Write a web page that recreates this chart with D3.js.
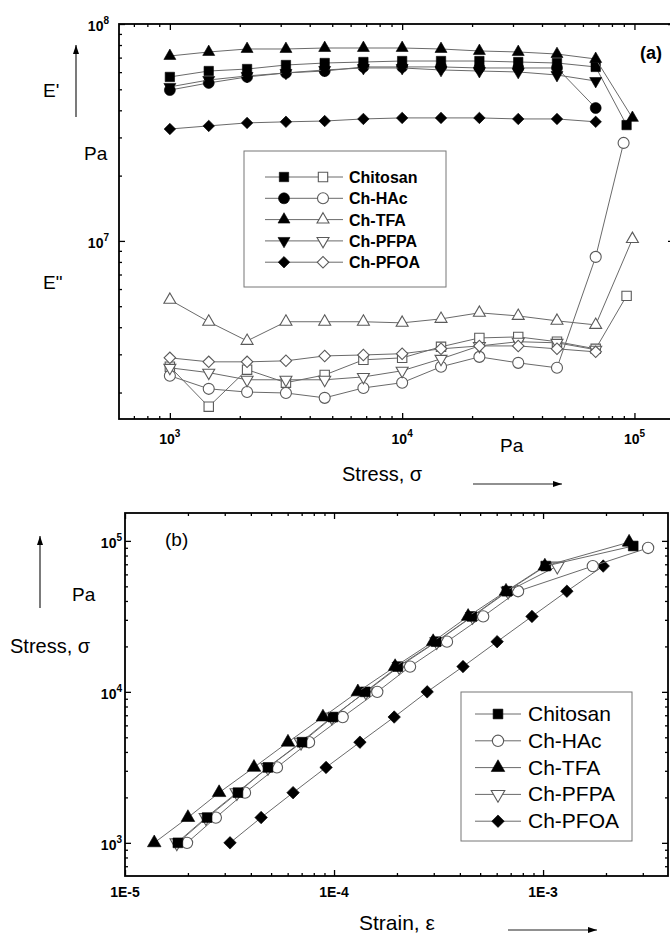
<!DOCTYPE html>
<html>
<head>
<meta charset="utf-8">
<script src="https://cdn.jsdelivr.net/npm/d3@7"></script>
<style>
  body { margin: 0; background: #fff; }
  svg { display: block; }
</style>
</head>
<body>
<svg id="chart" width="670" height="934"></svg>
<script>
// ---------------------------------------------------------------- data
var SAMPLES = ["Chitosan", "Ch-HAc", "Ch-TFA", "Ch-PFPA", "Ch-PFOA"];

// applied stress steps (Pa), shared by all samples
var STRESS = [1000, 1470, 2150, 3160, 4640, 6810, 10000, 14700, 21500, 31600, 46400, 68100];
// last stress step before failure (only some samples reached it)
var STRESS_END = [92500, 89800, 98000, null, null];

// (a) storage modulus E' (Pa)
var E1_CHITOSAN = [5.70e7, 6.07e7, 6.20e7, 6.47e7, 6.61e7, 6.68e7, 6.75e7, 6.75e7, 6.75e7, 6.68e7, 6.61e7, 6.34e7, 3.42e7];
var E1_HAC      = [4.96e7, 5.35e7, 5.70e7, 5.95e7, 6.07e7, 6.34e7, 6.34e7, 6.34e7, 6.27e7, 6.27e7, 6.27e7, 4.10e7];
var E1_TFA      = [7.12e7, 7.43e7, 7.67e7, 7.67e7, 7.75e7, 7.75e7, 7.75e7, 7.67e7, 7.51e7, 7.43e7, 7.27e7, 6.90e7, 3.69e7];
var E1_PFPA     = [5.13e7, 5.52e7, 5.76e7, 5.95e7, 6.14e7, 6.27e7, 6.27e7, 6.14e7, 6.07e7, 6.01e7, 5.82e7, 5.46e7];
var E1_PFOA     = [3.28e7, 3.39e7, 3.50e7, 3.54e7, 3.57e7, 3.65e7, 3.69e7, 3.69e7, 3.69e7, 3.65e7, 3.65e7, 3.54e7];

// (a) loss modulus E'' (Pa)
var E2_CHITOSAN = [2.63e6, 1.72e6, 2.55e6, 2.22e6, 2.41e6, 2.83e6, 2.89e6, 3.25e6, 3.57e6, 3.61e6, 3.43e6, 3.18e6, 5.58e6];
var E2_HAC      = [2.39e6, 2.08e6, 2.01e6, 1.99e6, 1.89e6, 2.10e6, 2.22e6, 2.63e6, 2.92e6, 2.74e6, 2.60e6, 8.44e6, 2.83e7];
var E2_TFA      = [5.35e6, 4.24e6, 3.46e6, 4.24e6, 4.24e6, 4.24e6, 4.19e6, 4.37e6, 4.66e6, 4.51e6, 4.28e6, 4.10e6, 1.02e7];
var E2_PFPA     = [2.60e6, 2.47e6, 2.29e6, 2.29e6, 2.29e6, 2.36e6, 2.52e6, 2.86e6, 3.28e6, 3.43e6, 3.39e6, 3.15e6];
var E2_PFOA     = [2.89e6, 2.77e6, 2.77e6, 2.80e6, 2.95e6, 2.98e6, 3.02e6, 3.18e6, 3.28e6, 3.28e6, 3.18e6, 3.08e6];

// (b) strain at each stress step
var STRAIN_CHITOSAN = [1.79e-5, 2.47e-5, 3.47e-5, 4.83e-5, 7.03e-5, 9.88e-5, 1.41e-4, 2.02e-4, 3.08e-4, 4.57e-4, 6.72e-4, 1.03e-3, 2.70e-3];
var STRAIN_HAC      = [1.98e-5, 2.72e-5, 3.75e-5, 5.33e-5, 7.59e-5, 1.10e-4, 1.61e-4, 2.31e-4, 3.47e-4, 5.17e-4, 7.59e-4, 1.73e-3, 3.18e-3];
var STRAIN_TFA      = [1.38e-5, 2.00e-5, 2.82e-5, 4.14e-5, 6.02e-5, 8.85e-5, 1.30e-4, 1.96e-4, 2.98e-4, 4.38e-4, 6.65e-4, 1.02e-3, 2.58e-3];
var STRAIN_PFPA     = [1.77e-5, 2.44e-5, 3.43e-5, 4.83e-5, 6.95e-5, 9.77e-5, 1.42e-4, 2.05e-4, 3.10e-4, 4.60e-4, 6.80e-4, 1.17e-3];
var STRAIN_PFOA     = [3.18e-5, 4.48e-5, 6.37e-5, 9.16e-5, 1.33e-4, 1.94e-4, 2.79e-4, 4.14e-4, 6.03e-4, 8.85e-4, 1.30e-3, 1.94e-3];

var E1 = [E1_CHITOSAN, E1_HAC, E1_TFA, E1_PFPA, E1_PFOA];
var E2 = [E2_CHITOSAN, E2_HAC, E2_TFA, E2_PFPA, E2_PFOA];
var STRAIN = [STRAIN_CHITOSAN, STRAIN_HAC, STRAIN_TFA, STRAIN_PFPA, STRAIN_PFOA];

// ---------------------------------------------------------------- styles
var FONT = "'Liberation Sans', Arial, Helvetica, sans-serif";
var LINE_COLOR = "#6a6a6a";
var OPEN_STROKE = "#5a5a5a";

// marker shape per sample: d3 type + rotation
var SHAPES = [
  {type: d3.symbolSquare,   rot: 0},
  {type: d3.symbolCircle,   rot: 0},
  {type: d3.symbolTriangle, rot: 0},
  {type: d3.symbolTriangle, rot: 180},
  {type: d3.symbolSquare,   rot: 45}
];
// marker areas (top panel / bottom panel)
var SIZE_A = [88, 95, 62, 62, 66];
var SIZE_B = [95, 100, 80, 80, 78];
// which samples show filled markers in (b)
var FILLED_B = [true, false, true, false, true];

var svg = d3.select("#chart");
svg.append("rect").attr("width", 670).attr("height", 934).attr("fill", "#fff");

function stressAt(s, i) {
  return i < STRESS.length ? STRESS[i] : STRESS_END[s];
}

function drawMarker(g, s, size, filled, px, py) {
  var sh = SHAPES[s];
  g.append("path")
    .attr("d", d3.symbol().type(sh.type).size(size)())
    .attr("transform", "translate(" + px + "," + py + ") rotate(" + sh.rot + ")")
    .attr("fill", filled ? "#000" : "#fff")
    .attr("stroke", filled ? "#000" : OPEN_STROKE)
    .attr("stroke-width", filled ? 0.6 : 1.1);
}

function drawSeries(g, pts, s, size, filled) {
  g.append("path")
    .datum(pts)
    .attr("d", d3.line().x(function(d){return d[0];}).y(function(d){return d[1];}))
    .attr("fill", "none")
    .attr("stroke", LINE_COLOR)
    .attr("stroke-width", 1);
  pts.forEach(function(p){ drawMarker(g, s, size, filled, p[0], p[1]); });
}

// log axis ticks: majors + minors on all four sides, pointing inward
function drawFrame(g, x, y, xMaj, xMin, yMaj, yMin) {
  var x0 = x.range()[0], x1 = x.range()[1], y0 = y.range()[0], y1 = y.range()[1];
  var w = x1 - x0, h = y0 - y1;
  function ax(gen, vals, len, tr) {
    var a = g.append("g").attr("transform", tr)
      .call(gen.tickValues(vals).tickSizeInner(len).tickSizeOuter(0).tickFormat(""));
    a.select(".domain").remove();
    a.selectAll("line").attr("stroke", "#000").attr("stroke-width", 1.3);
  }
  ax(d3.axisBottom(x), xMaj, -6, "translate(0," + y0 + ")");
  ax(d3.axisBottom(x), xMin, -3, "translate(0," + y0 + ")");
  ax(d3.axisTop(x), xMaj, -6, "translate(0," + y1 + ")");
  ax(d3.axisTop(x), xMin, -3, "translate(0," + y1 + ")");
  ax(d3.axisLeft(y), yMaj, -6, "translate(" + x0 + ",0)");
  ax(d3.axisLeft(y), yMin, -3, "translate(" + x0 + ",0)");
  ax(d3.axisRight(y), yMaj, -6, "translate(" + x1 + ",0)");
  ax(d3.axisRight(y), yMin, -3, "translate(" + x1 + ",0)");
  g.append("rect").attr("x", x0).attr("y", y1).attr("width", w).attr("height", h)
    .attr("fill", "none").attr("stroke", "#000").attr("stroke-width", 1.8);
}

function minors(decades, lo, hi) {
  var out = [];
  decades.forEach(function(d){
    for (var k = 2; k <= 9; k++) { var v = k * d; if (v > lo && v < hi) out.push(v); }
  });
  return out;
}

function powText(g, px, py, exp, anchor) {
  var t = g.append("text").attr("x", px).attr("y", py)
    .attr("text-anchor", anchor).attr("font-family", FONT)
    .attr("font-weight", "bold").attr("font-size", 14).attr("fill", "#000");
  t.append("tspan").text("10");
  t.append("tspan").attr("dy", -7).attr("font-size", 10).text(exp);
}

function plainText(g, px, py, str, size, weight, anchor) {
  return g.append("text").attr("x", px).attr("y", py).attr("font-family", FONT)
    .attr("font-size", size).attr("font-weight", weight || "normal")
    .attr("text-anchor", anchor || "start").attr("fill", "#000").text(str);
}

function arrow(g, xa, ya, xb, yb) {
  g.append("line").attr("x1", xa).attr("y1", ya).attr("x2", xb).attr("y2", yb)
    .attr("stroke", "#222").attr("stroke-width", 1.2);
  var ang = Math.atan2(yb - ya, xb - xa) * 180 / Math.PI;
  g.append("path").attr("d", "M0,0L-9,-3L-9,3Z").attr("fill", "#000")
    .attr("transform", "translate(" + xb + "," + yb + ") rotate(" + ang + ")");
}

// ---------------------------------------------------------------- panel (a)
var gA = svg.append("g").attr("id", "panelA");
// right edge sits just outside the picture, as in the original scan
var xA = d3.scaleLog().domain([604, 148000]).range([119, 674]);
var yA = d3.scaleLog().domain([1.51e6, 1e8]).range([419, 24]);

drawFrame(gA, xA, yA,
  [1e3, 1e4, 1e5], minors([100, 1e3, 1e4, 1e5], 604, 148000),
  [1e7, 1e8], minors([1e6, 1e7], 1.51e6, 1e8));

var gAdata = gA.append("g");
SAMPLES.forEach(function(name, s){
  var pts = E2[s].map(function(v, i){ return [xA(stressAt(s, i)), yA(v)]; });
  drawSeries(gAdata, pts, s, SIZE_A[s], false);
});
SAMPLES.forEach(function(name, s){
  var pts = E1[s].map(function(v, i){ return [xA(stressAt(s, i)), yA(v)]; });
  drawSeries(gAdata, pts, s, SIZE_A[s], true);
});

[1e3, 1e4, 1e5].forEach(function(v){ powText(gA, xA(v), 444, Math.round(Math.log10(v)), "middle"); });
[1e7, 1e8].forEach(function(v){ powText(gA, 109, yA(v) + 7, Math.round(Math.log10(v)), "end"); });

plainText(gA, 43, 97, "E'", 19);
plainText(gA, 84, 160, "Pa", 19);
plainText(gA, 43, 289, "E\"", 19);
arrow(gA, 76, 117, 76, 45);
plainText(gA, 640, 59, "(a)", 18, "bold");
plainText(gA, 500, 452, "Pa", 19);
plainText(gA, 342, 481, "Stress, \u03c3", 20);
arrow(gA, 473, 484, 562, 484);

// legend (a): filled (E') and open (E'') symbol per sample
var legA = gA.append("g");
legA.append("rect").attr("x", 244).attr("y", 151).attr("width", 202).attr("height", 136)
  .attr("fill", "#fff").attr("stroke", "#777").attr("stroke-width", 1);
SAMPLES.forEach(function(name, s){
  var ly = 177 + s * 21.3;
  legA.append("line").attr("x1", 265).attr("x2", 343).attr("y1", ly).attr("y2", ly)
    .attr("stroke", LINE_COLOR).attr("stroke-width", 1);
  drawMarker(legA, s, SIZE_A[s], true, 284, ly);
  drawMarker(legA, s, SIZE_A[s], false, 323, ly);
  plainText(legA, 349, ly + 6, name, 16, "bold");
});

// ---------------------------------------------------------------- panel (b)
var gB = svg.append("g").attr("id", "panelB");
var xB = d3.scaleLog().domain([1e-5, 3.96e-3]).range([125, 668]);
var yB = d3.scaleLog().domain([603, 1.53e5]).range([876, 513]);

drawFrame(gB, xB, yB,
  [1e-5, 1e-4, 1e-3], minors([1e-5, 1e-4, 1e-3], 1e-5, 3.96e-3),
  [1e3, 1e4, 1e5], minors([100, 1e3, 1e4, 1e5], 603, 1.53e5));

var gBdata = gB.append("g");
[4, 1, 3, 0, 2].forEach(function(s){
  var pts = STRAIN[s].map(function(v, i){ return [xB(v), yB(stressAt(s, i))]; });
  drawSeries(gBdata, pts, s, SIZE_B[s], FILLED_B[s]);
});

[1e3, 1e4, 1e5].forEach(function(v){ powText(gB, 122, yB(v) + 7, Math.round(Math.log10(v)), "end"); });
[[1e-5, "1E-5"], [1e-4, "1E-4"], [1e-3, "1E-3"]].forEach(function(t){
  plainText(gB, xB(t[0]), 897, t[1], 14, "bold", "middle");
});

arrow(gB, 40, 608, 40, 536);
plainText(gB, 72, 601, "Pa", 19);
plainText(gB, 10, 653, "Stress, \u03c3", 20);
plainText(gB, 165, 546, "(b)", 19);
plainText(gB, 359, 930, "Strain, \u03b5", 21);
arrow(gB, 508, 930, 597, 930);

// legend (b)
var legB = gB.append("g");
legB.append("rect").attr("x", 461).attr("y", 692).attr("width", 171).attr("height", 149)
  .attr("fill", "#fff").attr("stroke", "#777").attr("stroke-width", 1);
SAMPLES.forEach(function(name, s){
  var ly = 714 + s * 26.8;
  legB.append("line").attr("x1", 475).attr("x2", 521).attr("y1", ly).attr("y2", ly)
    .attr("stroke", LINE_COLOR).attr("stroke-width", 1);
  drawMarker(legB, s, SIZE_B[s], FILLED_B[s], 498, ly);
  plainText(legB, 528, ly + 7, name, 21);
});
</script>
</body>
</html>
